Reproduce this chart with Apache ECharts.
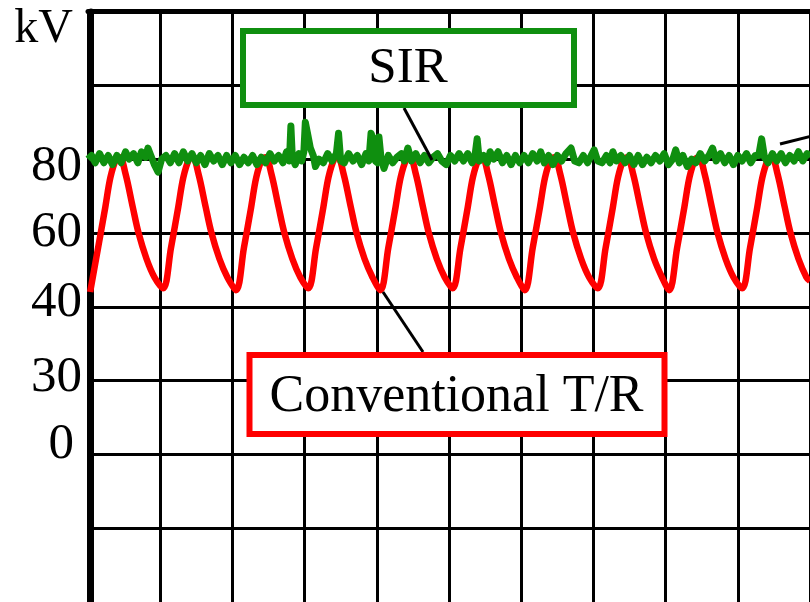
<!DOCTYPE html>
<html>
<head>
<meta charset="utf-8">
<script src="https://cdn.jsdelivr.net/npm/echarts@6/dist/echarts.min.js"></script>
<style>
html,body{margin:0;padding:0;background:#fff;}
#chart{width:810px;height:602px;}
</style>
</head>
<body>
<div id="chart"></div>
<script>
// ---- data (x in horizontal grid divisions, y in kV) ----
var yTickValues = [80, 60, 40, 20, 0];
var yTickLabels = ['80', '60', '40', '30', '0'];
var yUnit = 'kV';
var seriesNames = ['SIR', 'Conventional T/R'];

var redX = [0.03,0.14,0.24,0.31,0.39,0.44,0.52,0.62,0.70,0.81,0.92,
  1.04,1.15,1.25,1.32,1.40,1.45,1.53,1.63,1.71,1.82,1.93,
  2.05,2.16,2.26,2.33,2.41,2.46,2.54,2.64,2.72,2.83,2.94,
  3.05,3.16,3.26,3.33,3.41,3.46,3.54,3.64,3.72,3.83,3.94,
  4.05,4.16,4.26,4.33,4.41,4.46,4.54,4.64,4.72,4.83,4.94,
  5.05,5.16,5.26,5.33,5.41,5.46,5.54,5.64,5.72,5.83,5.94,
  6.05,6.16,6.26,6.33,6.41,6.46,6.54,6.64,6.72,6.83,6.94,
  7.06,7.17,7.27,7.34,7.42,7.47,7.55,7.65,7.73,7.84,7.95,
  8.05,8.16,8.26,8.33,8.41,8.46,8.54,8.64,8.72,8.83,8.94,
  9.06,9.17,9.27,9.34,9.42,9.47,9.55,9.65,9.73,9.84,9.95,10.0];
var redY = [44,56,67,75,80,80.5,76,67,60,53,48,
  45,56,67,75,80,80.5,76,67,60,53,48,
  44.5,56,67,75,80,80.5,76,67,60,53,48,
  45,56,67,75,80,80.5,76,67,60,53,48,
  44.5,56,67,75,80,80.5,76,67,60,53,48,
  45,56,67,75,80,80.5,76,67,60,53,48,
  44.5,56,67,75,80,80.5,76,67,60,53,48,
  45,56,67,75,80,80.5,76,67,60,53,48,
  44.5,56,67,75,80,80.5,76,67,60,53,48,
  45,56,67,75,80,80.5,76,67,60,53,48,47];

var greenX = [0.00,0.05,0.10,0.16,0.22,0.28,0.34,0.40,0.46,0.52,0.57,0.63,0.69,0.74,0.80,0.83,0.87,0.92,0.97,
  1.02,1.08,1.14,1.20,1.26,1.32,1.38,1.44,1.50,1.56,1.62,1.68,1.74,1.80,1.86,1.92,1.98,
  2.04,2.10,2.16,2.22,2.28,2.34,2.40,2.46,2.52,2.58,2.64,2.70,2.75,2.79,2.81,2.83,2.87,2.92,2.96,2.99,
  3.01,3.04,3.08,3.12,3.15,3.20,3.26,3.32,3.38,3.44,3.47,3.50,3.55,3.61,3.67,3.73,3.79,3.85,3.89,3.92,3.95,3.98,
  4.01,4.03,4.06,4.10,4.16,4.22,4.28,4.34,4.38,4.43,4.48,4.54,4.60,4.66,4.72,4.78,4.84,4.90,4.96,
  5.02,5.08,5.14,5.20,5.26,5.32,5.36,5.39,5.42,5.48,5.53,5.57,5.62,5.68,5.74,5.80,5.86,5.92,5.98,
  6.04,6.10,6.16,6.22,6.27,6.32,6.38,6.44,6.50,6.56,6.62,6.69,6.74,6.80,6.86,6.92,6.97,
  7.01,7.06,7.12,7.18,7.23,7.27,7.32,7.38,7.44,7.50,7.56,7.62,7.68,7.74,7.80,7.86,7.92,7.98,
  8.04,8.10,8.14,8.19,8.24,8.30,8.36,8.42,8.48,8.54,8.60,8.65,8.70,8.76,8.82,8.88,8.94,
  9.00,9.06,9.12,9.18,9.24,9.29,9.33,9.37,9.42,9.48,9.54,9.60,9.66,9.72,9.78,9.84,9.90,9.96,10.0];
var greenY = [80,81,79,81.5,79,81,78.5,81,79,82,80,81.5,79,82,80.5,83,81,78.5,76.5,
  80,81,79,81.5,79,82,79.5,81.5,79,81,78.5,81.5,79.5,81,78.5,81,79,
  81,78.5,80.5,79,81,78.5,80.5,79,81.5,79.5,81,79,82,79.5,89,80.5,78.5,81.5,79.5,82,
  90,87,83,81,78,80,79,81.5,79.5,81.5,87,79.5,79,81.5,79.5,81,78.5,81.5,79.5,87,85.5,79.5,
  79,86,80,77.5,81,79,80.5,81.5,79.5,83,79.5,81.5,79,81,79,80.5,81.5,79.5,78.5,
  81,79.5,81.5,79.5,81.5,79,81,85.5,79.5,81,79,82,80,82,79,81,78.5,81,79,
  81,79,81.5,79.5,82,79,81,78.5,81,79.5,81.5,83,79.5,79,81,79,81,
  82.5,79.5,79,81,79,82,79.5,81,79,81,78.5,81,78.5,80.5,79,81,79.5,81.5,
  78.5,80,82.5,79,81,78,80,79,81.5,79.5,81,83,79.5,81.5,79,81,78.5,
  81,79.5,81.5,79,81,81,85.5,80.5,79,81.5,79.5,81.5,79,81,79.5,82,79.5,81.5,80.5];

function zip(xs, ys) { return xs.map(function (x, i) { return [x, ys[i]]; }); }

var GREEN = '#0f8f0f';
var RED = '#ff0000';
var FONT = '"Liberation Serif", "Times New Roman", serif';
var LBL = 51;

var chart = echarts.init(document.getElementById('chart'), null, {renderer: 'canvas'});

var richStyles = {
  s0: {fontFamily: FONT, fontSize: LBL, color: '#000', padding: [14, 0, 0, 0]},
  s1: {fontFamily: FONT, fontSize: LBL, color: '#000', padding: [0, 0, 0, 0]},
  s2: {fontFamily: FONT, fontSize: LBL, color: '#000', padding: [0, 0, 8, 0]},
  s3: {fontFamily: FONT, fontSize: LBL, color: '#000', padding: [0, 0, 6, 0]},
  s4: {fontFamily: FONT, fontSize: LBL, color: '#000', padding: [0, 8, 20, 0]}
};

chart.setOption({
  animation: false,
  backgroundColor: '#fff',
  grid: {left: 88, top: 11.5, width: 727.5, height: 590.5, containLabel: false},
  xAxis: {
    type: 'value', min: 0, max: 10, interval: 1, position: 'top',
    axisLine: {show: true, onZero: false, lineStyle: {color: '#000', width: 5}},
    axisTick: {show: false},
    axisLabel: {show: false},
    splitLine: {show: true, lineStyle: {color: '#000', width: 3}}
  },
  yAxis: {
    type: 'value', min: -40, max: 120, interval: 20, offset: -3,
    name: yUnit, nameLocation: 'end', nameGap: -18,
    nameTextStyle: {fontFamily: FONT, fontSize: 48, color: '#000', align: 'right', verticalAlign: 'middle', padding: [0, 18, 0, 0]},
    axisLine: {show: true, onZero: false, lineStyle: {color: '#000', width: 6}},
    axisTick: {show: false},
    splitLine: {show: true, showMinLine: false, lineStyle: {color: '#000', width: 3}},
    axisLabel: {
      margin: 9, fontFamily: FONT, fontSize: LBL, color: '#000',
      formatter: function (v) {
        var i = yTickValues.indexOf(v);
        return i >= 0 ? '{s' + i + '|' + yTickLabels[i] + '}' : '';
      },
      rich: richStyles
    }
  },
  series: [
    {
      name: seriesNames[1], type: 'line', data: zip(redX, redY),
      showSymbol: false, smooth: 0.35, z: 3,
      lineStyle: {color: RED, width: 6.5, join: 'round'}
    },
    {
      name: seriesNames[0], type: 'line', data: zip(greenX, greenY),
      showSymbol: false, z: 4,
      lineStyle: {color: GREEN, width: 7, join: 'round'}
    }
  ],
  graphic: [
    {type: 'line', z: 100, shape: {x1: 404, y1: 108, x2: 432, y2: 160}, style: {stroke: '#000', lineWidth: 3}},
    {type: 'line', z: 100, shape: {x1: 383, y1: 292, x2: 423, y2: 352}, style: {stroke: '#000', lineWidth: 3}},
    {type: 'line', z: 100, shape: {x1: 780, y1: 144, x2: 812, y2: 136}, style: {stroke: '#000', lineWidth: 3}},
    {type: 'rect', z: 100, shape: {x: 243, y: 31, width: 331, height: 74}, style: {fill: '#fff', stroke: GREEN, lineWidth: 6}},
    {type: 'text', z: 101, x: 408, y: 69, style: {text: seriesNames[0], fontFamily: FONT, fontSize: 51, fill: '#000', align: 'center', verticalAlign: 'middle'}},
    {type: 'rect', z: 100, shape: {x: 249.5, y: 355, width: 415, height: 79}, style: {fill: '#fff', stroke: RED, lineWidth: 6}},
    {type: 'text', z: 101, x: 456.5, y: 397, style: {text: seriesNames[1], fontFamily: FONT, fontSize: 52, fill: '#000', align: 'center', verticalAlign: 'middle'}}
  ]
});
</script>
</body>
</html>
